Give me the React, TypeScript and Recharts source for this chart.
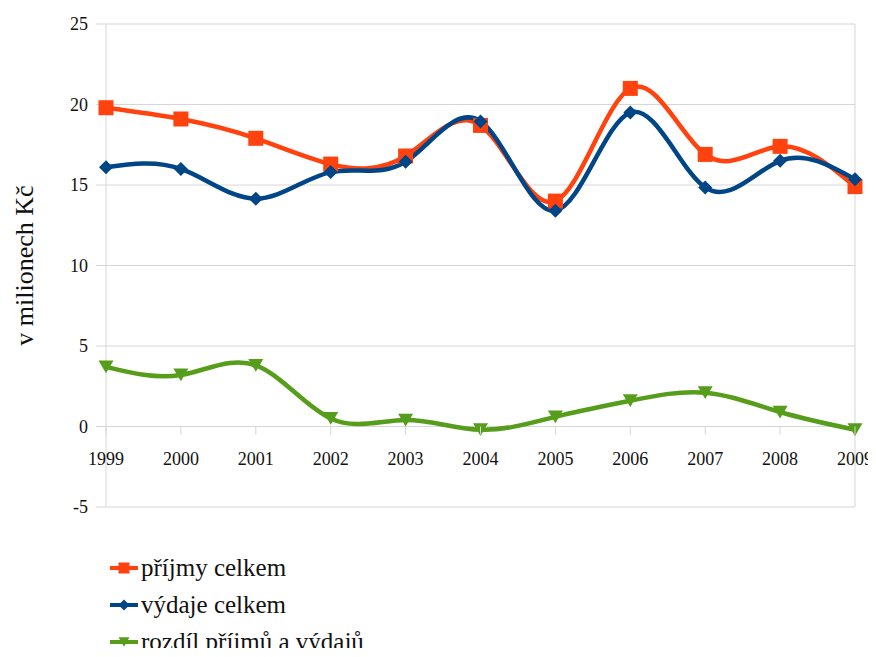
import React from 'react';
import { LineChart, Line, XAxis, YAxis, CartesianGrid, ReferenceLine } from 'recharts';

const years = ['1999', '2000', '2001', '2002', '2003', '2004', '2005', '2006', '2007', '2008', '2009'];
const prijmy = [19.8, 19.1, 17.9, 16.3, 16.8, 18.7, 14.0, 21.0, 16.9, 17.4, 14.9];
const vydaje = [16.1, 16.0, 14.15, 15.8, 16.45, 18.95, 13.4, 19.5, 14.85, 16.5, 15.35];
const rozdil = [3.7, 3.2, 3.8, 0.5, 0.4, -0.2, 0.6, 1.6, 2.1, 0.9, -0.2];
const yTicks = [-5, 0, 5, 10, 15, 20, 25];

const SERIES = [
  { key: 'prijmy', name: 'příjmy celkem', color: '#ff420e', shape: 'square' },
  { key: 'vydaje', name: 'výdaje celkem', color: '#004586', shape: 'diamond' },
  { key: 'rozdil', name: 'rozdíl příjmů a výdajů', color: '#579d1c', shape: 'triangle' },
];

const data = years.map((year, i) => ({
  year,
  prijmy: prijmy[i],
  vydaje: vydaje[i],
  rozdil: rozdil[i],
}));

const FONT = "'Liberation Serif', 'DejaVu Serif', serif";
const W = 868;
const H = 529;
const MARGIN = { top: 16, right: 21, bottom: 0, left: 0 };
const Y_W = 98;
const X_H = 30;
const DOMAIN: [number, number] = [-5, 25];
const GRID = '#d6d6d6';
const TICK_FS = 18;

// the category labels sit under the zero line, not under the plot
const plotTop = MARGIN.top;
const plotH = H - MARGIN.top - MARGIN.bottom - X_H;
const zeroY = plotTop + (plotH * (DOMAIN[1] - 0)) / (DOMAIN[1] - DOMAIN[0]);

function XTick({ x, payload }: any) {
  return (
    <g>
      <line x1={x} y1={zeroY} x2={x} y2={zeroY + 8} stroke={GRID} />
      <text x={x} y={zeroY + 38} textAnchor="middle" fontSize={TICK_FS} style={{ fontFamily: FONT }} fill="#111">
        {payload.value}
      </text>
    </g>
  );
}

function Marker({ shape, color, cx, cy, size }: any) {
  if (cx == null || cy == null) return null;
  if (shape === 'square') {
    return <rect x={cx - size / 2} y={cy - size / 2} width={size} height={size} fill={color} />;
  }
  if (shape === 'diamond') {
    const r = size / 2;
    return <polygon points={`${cx},${cy - r} ${cx + r},${cy} ${cx},${cy + r} ${cx - r},${cy}`} fill={color} />;
  }
  const r = size / 2;
  return <polygon points={`${cx - r},${cy - r * 0.85} ${cx + r},${cy - r * 0.85} ${cx},${cy + r * 0.85}`} fill={color} />;
}

const dotSize: Record<string, number> = { square: 15, diamond: 14, triangle: 15 };

function YLabel({ viewBox }: any) {
  const cx = 25;
  const cy = viewBox.y + viewBox.height / 2;
  return (
    <text
      x={cx}
      y={cy}
      transform={`rotate(-90 ${cx} ${cy})`}
      textAnchor="middle"
      fontSize={26}
      style={{ fontFamily: FONT }}
      fill="#111"
    >
      v milionech Kč
    </text>
  );
}

export default function App() {
  return (
    <div style={{ position: 'relative', width: W, height: 640, fontFamily: FONT }}>
      <style>{'html, body { overflow: hidden; }'}</style>
      <LineChart width={W} height={H} data={data} margin={MARGIN}>
        <CartesianGrid vertical={false} stroke={GRID} />
        <XAxis
          dataKey="year"
          axisLine={false}
          tickLine={false}
          interval={0}
          height={X_H}
          tick={<XTick />}
        />
        <YAxis
          domain={DOMAIN}
          ticks={yTicks}
          width={Y_W}
          interval={0}
          axisLine={{ stroke: GRID }}
          tickLine={{ stroke: GRID }}
          tickSize={10}
          tickMargin={8}
          tick={{ fontSize: TICK_FS, fill: '#111', style: { fontFamily: FONT } }}
          label={{ content: <YLabel /> }}
        />
        <ReferenceLine x="2009" stroke={GRID} />
        {SERIES.map((s) => (
          <Line
            key={s.key}
            type="natural"
            dataKey={s.key}
            name={s.name}
            stroke={s.color}
            strokeWidth={4.5}
            isAnimationActive={false}
            dot={(p: any) => (
              <Marker key={`${s.key}-${p.index}`} shape={s.shape} color={s.color} cx={p.cx} cy={p.cy} size={dotSize[s.shape]} />
            )}
            activeDot={false}
          />
        ))}
      </LineChart>

      {/* legend, stacked under the plot */}
      <div style={{ position: 'absolute', left: 102, top: 541, fontSize: 25, color: '#111' }}>
        {SERIES.map((s) => (
          <div key={s.key} style={{ display: 'flex', alignItems: 'center', height: 37, lineHeight: '30px' }}>
            <svg width={30} height={20} style={{ marginRight: 1 }}>
              <line x1={0} y1={10} x2={28} y2={10} stroke={s.color} strokeWidth={4} />
              <Marker shape={s.shape} color={s.color} cx={14} cy={10} size={11} />
            </svg>
            <span>{s.name}</span>
          </div>
        ))}
      </div>
    </div>
  );
}
